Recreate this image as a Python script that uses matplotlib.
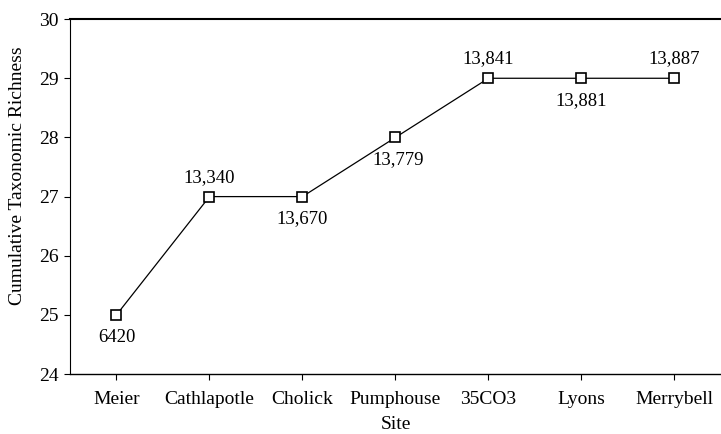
import matplotlib
matplotlib.use("Agg")
import matplotlib.pyplot as plt

sites = ["Meier", "Cathlapotle", "Cholick", "Pumphouse", "35CO3", "Lyons", "Merrybell"]
richness = [25, 27, 27, 28, 29, 29, 29]
sample_sizes = ["6420", "13,340", "13,670", "13,779", "13,841", "13,881", "13,887"]
# label above (+1) or below (-1) the point
label_side = [-1, 1, -1, -1, 1, -1, 1]

plt.rcParams["font.family"] = ["Liberation Serif", "DejaVu Serif"]

fig = plt.figure(figsize=(7.21, 4.34), dpi=100)
ax = fig.add_axes([0.097, 0.138, 0.903, 0.818])

x = list(range(len(sites)))
ax.plot(x, richness, color="black", linewidth=0.9, marker="s", markersize=7,
        markerfacecolor="white", markeredgecolor="black", markeredgewidth=1.2)

for xi, yi, lab, side in zip(x, richness, sample_sizes, label_side):
    dx = 2 if lab == "13,779" else 0
    dy = 14 if side > 0 else -16
    ax.annotate(lab, (xi, yi), xytext=(dx, dy), textcoords="offset points",
                ha="center", va="center", fontsize=13.5)

ax.set_xlim(-0.5, 6.5)
ax.set_ylim(24, 30)
ax.set_xticks(x)
ax.set_xticklabels(sites)
ax.set_yticks(range(24, 31))
ax.tick_params(labelsize=14, direction="out", length=4, width=0.8, pad=4)
ax.tick_params(axis="x", pad=8)
ax.set_xlabel("Site", fontsize=14, labelpad=6)
ax.set_ylabel("Cumulative Taxonomic Richness", fontsize=14)
ax.yaxis.set_label_coords(-0.068, 0.56)

ax.spines["right"].set_visible(False)
ax.spines["top"].set_linewidth(1.5)
ax.spines["bottom"].set_linewidth(1.0)
ax.spines["left"].set_linewidth(0.8)

fig.savefig("out.png", dpi=100)
